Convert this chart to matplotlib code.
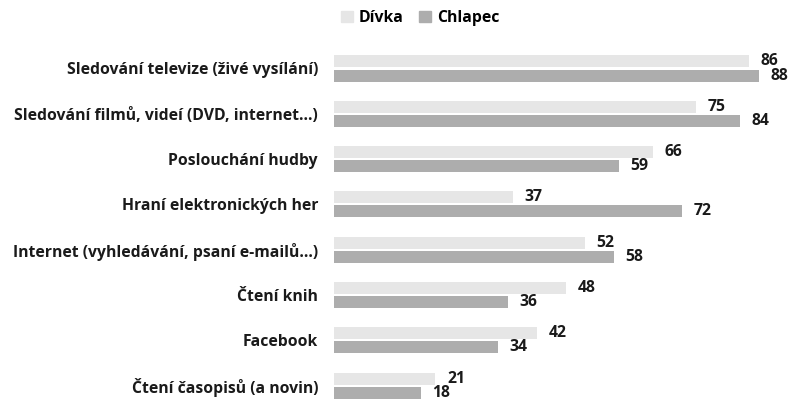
import numpy as np
import matplotlib.pyplot as plt
from matplotlib.patches import Patch

plt.rcParams['font.family'] = ['Open Sans', 'DejaVu Sans']

categories = ['Sledování televize (živé vysílání)',
              'Sledování filmů, videí (DVD, internet…)',
              'Poslouchání hudby',
              'Hraní elektronických her',
              'Internet (vyhledávání, psaní e-mailů…)',
              'Čtení knih',
              'Facebook',
              'Čtení časopisů (a novin)']
divka = [86, 75, 66, 37, 52, 48, 42, 21]
chlapec = [88, 84, 59, 72, 58, 36, 34, 18]
series_names = ['Dívka', 'Chlapec']
colors = ['#e6e6e6', '#adadad']
fsize = 11.3

fig = plt.figure(figsize=(7.93, 4.0), dpi=100)
ax = fig.add_axes([334/793, 0.0, 1 - 334/793, 0.9])

y = np.arange(len(categories))
h = 0.265
off = 0.155
ax.barh(y - off, divka, height=h, color=colors[0])
ax.barh(y + off, chlapec, height=h, color=colors[1])

for yi, v in zip(y, divka):
    ax.text(v + 2.4, yi - off, str(v), va='center', ha='left',
            fontsize=fsize, fontweight='bold', color='#1a1a1a')
for yi, v in zip(y, chlapec):
    ax.text(v + 2.4, yi + off, str(v), va='center', ha='left',
            fontsize=fsize, fontweight='bold', color='#1a1a1a')

ax.set_xlim(0, 794 / 4.84 - 334 / 4.84)
ax.set_ylim(7.318, -0.629)
ax.set_yticks(y)
ax.set_yticklabels(categories, fontsize=fsize, fontweight='bold', color='#1a1a1a')
ax.tick_params(axis='y', length=0, pad=11.5)
ax.set_xticks([])
for s in ax.spines.values():
    s.set_visible(False)

handles = [Patch(color=c) for c in colors]
fig.legend(handles, series_names, loc='center', bbox_to_anchor=(0.53, 0.955),
           ncol=2, frameon=False, handlelength=0.75, handleheight=0.75,
           handletextpad=0.4, columnspacing=1.0,
           prop={'weight': 'bold', 'size': fsize})

fig.savefig('out.png', dpi=100)
